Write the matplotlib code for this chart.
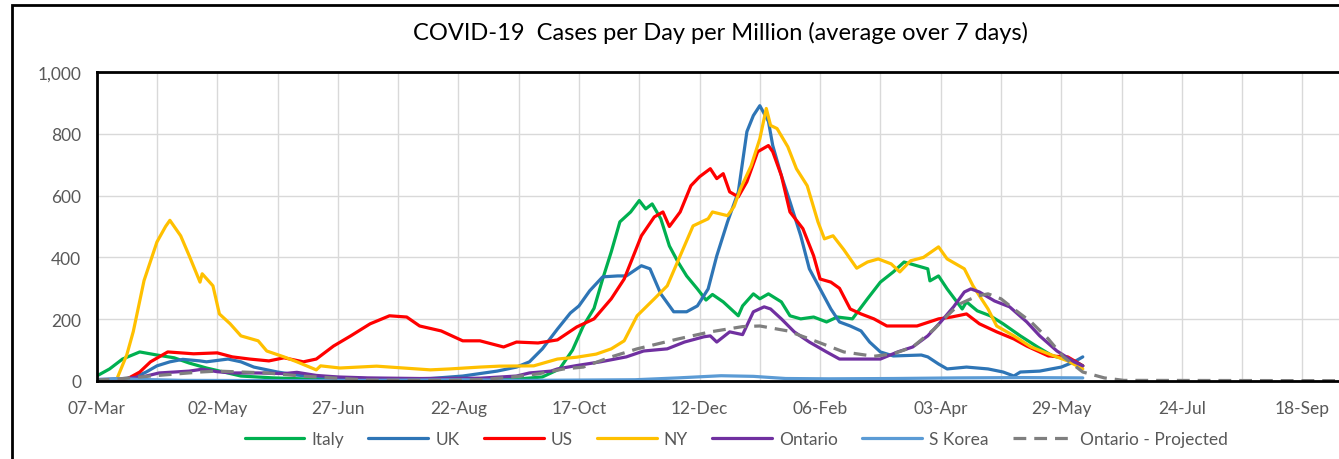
import matplotlib
matplotlib.use("Agg")
import matplotlib.pyplot as plt
from matplotlib.patches import Rectangle

plt.rcParams['font.family'] = ['Lato', 'DejaVu Sans']

# x positions are days counted from 07-Mar-2020
tick_days = [0, 56, 112, 168, 224, 280, 336, 392, 448, 504, 560]
tick_labels = ['07-Mar', '02-May', '27-Jun', '22-Aug', '17-Oct', '12-Dec',
               '06-Feb', '03-Apr', '29-May', '24-Jul', '18-Sep']

italy_day = [0, 6, 12, 20, 28, 36, 43, 51, 59, 67, 82, 104, 141, 178, 195, 207, 215, 221, 226, 231,
             235, 239, 243, 248, 252, 255, 258, 262, 266, 270, 274, 279, 283, 286, 291, 298, 300, 305, 308, 312,
             318, 322, 327, 333, 339, 344, 351, 358, 364, 370, 375, 381, 386, 387, 391, 395, 402, 404, 409, 415,
             421, 429, 437, 444, 454, 458]
italy_val = [16, 39, 71, 94, 84, 75, 58, 42, 29, 16, 10, 5, 3, 4, 6, 13, 39, 100, 178, 235,
             330, 418, 515, 547, 584, 557, 573, 525, 437, 385, 340, 298, 262, 280, 256, 211, 243, 282, 266, 282,
             256, 211, 201, 207, 191, 207, 201, 266, 320, 353, 385, 373, 363, 324, 340, 298, 233, 256, 227, 211,
             185, 146, 110, 81, 65, 49]

uk_day = [0, 17, 23, 28, 34, 40, 48, 51, 61, 67, 73, 84, 93, 105, 132, 155, 170, 186, 195, 201,
          207, 214, 220, 224, 229, 235, 242, 246, 253, 257, 262, 268, 274, 279, 284, 288, 293, 298, 302, 305,
          308, 312, 314, 318, 322, 327, 331, 336, 341, 345, 350, 355, 359, 364, 370, 383, 386, 391, 395, 404,
          414, 421, 426, 429, 438, 448, 454, 458]
uk_val = [2, 10, 29, 49, 62, 70, 65, 62, 71, 62, 45, 29, 19, 13, 6, 8, 16, 32, 45, 62,
          104, 168, 220, 243, 292, 337, 340, 340, 373, 363, 282, 224, 224, 243, 298, 405, 515, 612, 807, 859,
          891, 840, 762, 665, 580, 470, 363, 298, 233, 191, 178, 162, 126, 94, 81, 84, 78, 55, 39, 45,
          39, 29, 16, 29, 32, 45, 62, 78]

us_day = [0, 14, 20, 25, 33, 45, 56, 63, 71, 80, 87, 96, 102, 110, 118, 127, 136, 144, 150, 160,
          170, 178, 189, 195, 205, 214, 223, 231, 239, 245, 253, 259, 263, 266, 271, 276, 280, 285, 288, 291,
          294, 298, 302, 307, 312, 314, 318, 322, 328, 333, 336, 341, 345, 350, 355, 361, 367, 373, 381, 391,
          397, 404, 410, 418, 426, 432, 442, 451, 458]
us_val = [0, 6, 29, 62, 94, 88, 91, 78, 71, 65, 75, 62, 71, 113, 146, 185, 211, 207, 178, 162,
          130, 130, 110, 126, 123, 133, 175, 201, 266, 330, 470, 531, 547, 500, 547, 632, 661, 687, 655, 671,
          612, 596, 645, 742, 762, 742, 665, 547, 493, 405, 330, 320, 300, 233, 217, 201, 178, 178, 178, 201,
          207, 217, 185, 159, 136, 113, 81, 78, 49]

ny_day = [9, 14, 17, 22, 28, 32, 34, 39, 43, 48, 49, 54, 57, 62, 67, 75, 79, 87, 93, 102,
          104, 113, 130, 155, 164, 178, 187, 203, 214, 223, 232, 239, 245, 251, 259, 265, 271, 277, 284, 286,
          293, 296, 299, 304, 308, 311, 313, 316, 321, 325, 330, 335, 338, 342, 347, 353, 358, 363, 369, 373,
          378, 384, 391, 395, 403, 407, 414, 418, 426, 434, 442, 451, 458]
ny_val = [0, 85, 160, 325, 450, 500, 520, 470, 405, 320, 347, 308, 217, 185, 146, 130, 97, 78, 62, 36,
          49, 42, 48, 36, 39, 45, 48, 49, 71, 77, 87, 104, 130, 211, 266, 308, 405, 502, 525, 547,
          535, 564, 622, 697, 784, 882, 827, 817, 758, 687, 632, 515, 460, 470, 425, 365, 385, 395, 379, 353,
          389, 400, 434, 395, 363, 308, 233, 178, 146, 110, 88, 65, 39]

ontario_day = [0, 12, 23, 29, 43, 49, 56, 63, 75, 87, 93, 102, 112, 126, 150, 178, 195, 201, 211, 214,
               223, 234, 246, 254, 265, 273, 282, 285, 288, 294, 300, 305, 310, 313, 318, 324, 331, 339, 345, 353,
               364, 372, 379, 386, 392, 398, 403, 406, 410, 417, 424, 432, 438, 446, 454, 458]
ontario_val = [5, 6, 16, 26, 32, 38, 30, 26, 26, 24, 28, 18, 13, 10, 8, 9, 16, 26, 32, 39,
               50, 62, 78, 97, 104, 126, 143, 146, 126, 159, 150, 224, 240, 233, 201, 159, 126, 94, 71, 71,
               71, 94, 110, 146, 191, 240, 288, 298, 288, 259, 240, 191, 146, 97, 62, 49]

korea_day = [0, 10, 20, 40, 100, 170, 200, 250, 270, 290, 305, 320, 340, 370, 400, 430, 458]
korea_val = [4, 8, 5, 2, 1, 4, 2, 4, 10, 17, 15, 8, 7, 8, 10, 11, 10]

proj_day = [0, 9, 25, 48, 56, 79, 95, 126, 164, 180, 192, 205, 217, 226, 239, 251, 270, 285, 300, 308,
            321, 335, 347, 361, 370, 379, 389, 395, 401, 409, 414, 420, 426, 434, 442, 449, 458, 468, 477, 577]
proj_val = [3, 6, 16, 29, 32, 26, 16, 3, 2, 5, 12, 23, 39, 45, 78, 104, 136, 159, 176, 178,
            162, 126, 94, 80, 88, 110, 168, 211, 250, 275, 282, 266, 233, 191, 136, 78, 29, 10, 2, 1]

series = [
    ('Italy', italy_day, italy_val, '#00B050', '-'),
    ('UK', uk_day, uk_val, '#2E75B6', '-'),
    ('US', us_day, us_val, '#FF0000', '-'),
    ('NY', ny_day, ny_val, '#FFC000', '-'),
    ('Ontario', ontario_day, ontario_val, '#7030A0', '-'),
    ('S Korea', korea_day, korea_val, '#5B9BD5', '-'),
    ('Ontario - Projected', proj_day, proj_val, '#7F7F7F', '--'),
]

fig = plt.figure(figsize=(13.39, 4.6), dpi=100)
ax = fig.add_axes([0.0722, 0.1696, 0.9278, 0.6717])

for name, d, v, c, ls in series:
    line, = ax.plot(d, v, color=c, linewidth=2.3, linestyle=ls, label=name,
                    solid_joinstyle='round', solid_capstyle='round')
    if ls == '--':
        line.set_dashes((4, 2.5))

ax.set_xlim(0, 577)
ax.set_ylim(0, 1000)
ax.set_xticks(tick_days)
ax.set_xticklabels(tick_labels)
ax.set_xticks(range(28, 577, 56), minor=True)
ax.set_yticks(range(0, 1001, 200))
ax.set_yticklabels(['0', '200', '400', '600', '800', '1,000'])
ax.grid(True, which='both', color='#D9D9D9', linewidth=1.0)
ax.set_axisbelow(True)
ax.tick_params(which='both', length=0, labelsize=12.5, labelcolor='#595959')
ax.tick_params(axis='x', pad=14)
ax.tick_params(axis='y', pad=11)
for side in ['left', 'top', 'bottom']:
    ax.spines[side].set_linewidth(2)
    ax.spines[side].set_color('black')
ax.spines['right'].set_visible(False)

fig.text(0.538, 1 - 33 / 460, 'COVID-19  Cases per Day per Million (average over 7 days)',
         ha='center', va='center', fontsize=17, color='black')

fig.legend(loc='center', bbox_to_anchor=(0.5497, 0.0435), ncol=7, frameon=False,
           fontsize=12.5, labelcolor='#595959', handlelength=3.45, handletextpad=0.4,
           columnspacing=1.4)

fig.patches.append(Rectangle((12 / 1339, -0.1), 1.1, 0.1 + 1 - 6 / 460, transform=fig.transFigure,
                             fill=False, edgecolor='black', linewidth=2, clip_on=False))

fig.savefig('out.png', dpi=100)
